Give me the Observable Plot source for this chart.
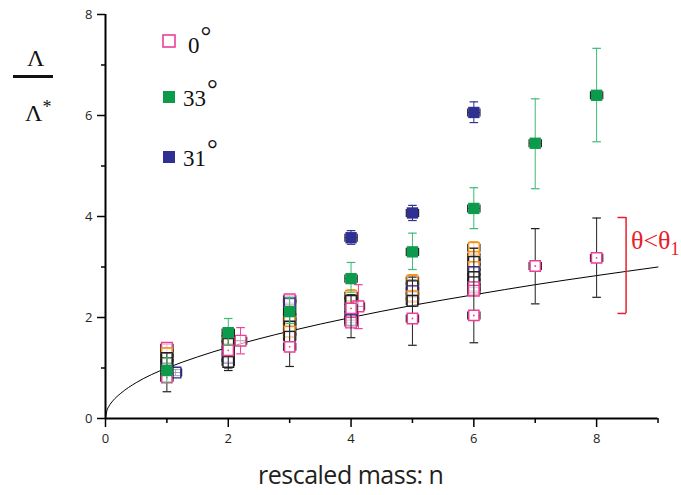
<!DOCTYPE html>
<html><head><meta charset="utf-8">
<script src="https://cdn.jsdelivr.net/npm/d3@7"></script>
<script src="https://cdn.jsdelivr.net/npm/@observablehq/plot@0.6"></script>
<style>
body{margin:0;background:#fff}
#chart{position:relative;width:681px;height:495px;overflow:hidden}
.ov{position:absolute;white-space:nowrap;line-height:1}
.serif{font-family:"Liberation Serif","DejaVu Serif",serif;color:#111}
</style>
</head><body><div id="chart"></div>
<script>
// ---- data ----
const n0 = [1, 2, 3, 4, 5, 6, 7, 8];
const lam0 = [0.81, 1.35, 1.42, 2.18, 1.98, 2.04, 3.02, 3.18];
const lam0Lo = [0.53, 0.95, 1.03, 1.6, 1.45, 1.5, 2.27, 2.4];
const lam0Hi = [1.3, 1.7, 2.2, 2.45, 2.8, 3.37, 3.76, 3.97];

const n33 = [1, 2, 3, 4, 5, 6, 7, 8];
const lam33 = [0.95, 1.7, 2.12, 2.77, 3.3, 4.16, 5.45, 6.4];
const lam33Lo = [0.72, 1.45, 1.88, 2.5, 2.95, 3.76, 4.55, 5.48];
const lam33Hi = [1.2, 1.98, 2.4, 3.09, 3.67, 4.57, 6.33, 7.33];

const n31 = [4, 5, 6];
const lam31 = [3.58, 4.07, 6.06];
const lam31Lo = [3.45, 3.92, 5.86];
const lam31Hi = [3.72, 4.22, 6.27];

// other runs (unlabelled open squares)
const nX =   [1, 1, 1, 1, 1.14, 2, 2, 2, 2, 2.2, 3, 3, 3, 3, 3, 3, 3, 4, 4, 4, 4, 4.12, 4, 5, 5, 5, 5, 5, 6, 6, 6, 6, 6, 6, 6, 6, 6];
const lamX = [1.40, 1.29, 1.2, 1.1, 0.91, 1.58, 1.48, 1.2, 1.12, 1.54, 2.36, 2.28, 2.0, 1.92, 1.82, 1.72, 1.62, 2.43, 2.33, 2.05, 1.95, 2.22, 1.9, 2.73, 2.62, 2.52, 2.42, 2.33, 3.38, 3.2, 3.1, 3.0, 2.9, 2.8, 2.7, 2.6, 2.53];
const lamXLo = [1.3, 1.18, 1.08, 0.98, 0.85, 1.45, 1.36, 1.1, 1.0, 1.28, 2.3, 2.2, 1.9, 1.8, 1.72, 1.62, 1.52, 2.3, 2.2, 1.95, 1.85, 1.78, 1.82, 2.6, 2.5, 2.4, 2.3, 2.22, 3.25, 3.08, 2.98, 2.88, 2.8, 2.7, 2.6, 2.5, 2.45];
const lamXHi = [1.47, 1.38, 1.3, 1.2, 0.97, 1.7, 1.6, 1.3, 1.22, 1.8, 2.43, 2.38, 2.1, 2.02, 1.92, 1.82, 1.72, 2.55, 2.45, 2.15, 2.05, 2.65, 2.0, 2.85, 2.75, 2.64, 2.55, 2.45, 3.5, 3.32, 3.22, 3.12, 3.0, 2.9, 2.8, 2.7, 2.62];
const runX = ["p", "o", "k", "k", "b", "o", "k", "b", "k", "p", "p", "b", "k", "o", "k", "o", "k", "o", "k", "k", "b", "p", "p", "o", "k", "b", "o", "k", "o", "o", "k", "o", "b", "k", "k", "p", "p"];

// fitted curve, points
const curveN =   [0, 0.02, 0.06, 0.12, 0.25, 0.5, 0.75, 1, 1.5, 2, 3, 4, 5, 6, 7, 8, 9];
const curveLam = [0, 0.14, 0.25, 0.35, 0.5, 0.71, 0.87, 1, 1.22, 1.41, 1.73, 2, 2.24, 2.45, 2.65, 2.83, 3];

// axis ticks
const majorTicksX = [0, 2, 4, 6, 8];
const minorTicksX = [1, 3, 5, 7, 9];
const majorTicksY = [0, 2, 4, 6, 8];
const minorTicksY = [1, 3, 5, 7];

// annotation bracket
const bracketN = [8.48];
const bracketLam = [2.08, 3.98];

// ---- styles ----
const PINK = "#ec3f96", GREEN = "#0c9b4c", GREENBAR = "#3dbb74", NAVY = "#2e3192", ORANGE = "#f7941d", BLACK = "#231f20", RED = "#e8202a";
const colorOf = {p: PINK, o: ORANGE, k: BLACK, b: NAVY};

const main0 = n0.map((x, i) => ({x, y: lam0[i], lo: lam0Lo[i], hi: lam0Hi[i]}));
const main33 = n33.map((x, i) => ({x, y: lam33[i], lo: lam33Lo[i], hi: lam33Hi[i]}));
const main31 = n31.map((x, i) => ({x, y: lam31[i], lo: lam31Lo[i], hi: lam31Hi[i]}));
const extra = nX.map((x, i) => ({x, y: lamX[i], lo: lamXLo[i], hi: lamXHi[i], c: colorOf[runX[i]]}));
const curve = curveN.map((x, i) => ({x, y: curveLam[i]}));

const capW = 0.07, hErr = 0.1, hCap = 0.08;
function errorBars(data, stroke) {
  return [
    Plot.ruleX(data, {x: "x", y1: "lo", y2: "hi", stroke, strokeWidth: 1}),
    Plot.link(data, {x1: d => d.x - capW, x2: d => d.x + capW, y1: "lo", y2: "lo", stroke, strokeWidth: 1.2}),
    Plot.link(data, {x1: d => d.x - capW, x2: d => d.x + capW, y1: "hi", y2: "hi", stroke, strokeWidth: 1.2})
  ];
}
function hBars(data) {
  return [
    Plot.link(data, {x1: d => d.x - hErr, x2: d => d.x + hErr, y1: "y", y2: "y", stroke: BLACK, strokeWidth: 1}),
    Plot.link(data, {x1: d => d.x - hErr, x2: d => d.x - hErr, y1: d => d.y - hCap, y2: d => d.y + hCap, stroke: BLACK, strokeWidth: 1.2}),
    Plot.link(data, {x1: d => d.x + hErr, x2: d => d.x + hErr, y1: d => d.y - hCap, y2: d => d.y + hCap, stroke: BLACK, strokeWidth: 1.2})
  ];
}
const sq = {symbol: "square", strokeLinejoin: "miter"};

const plot = Plot.plot({
  width: 681, height: 495,
  marginLeft: 105, marginRight: 23.5, marginTop: 14, marginBottom: 77,
  x: {domain: [0, 9], label: null},
  y: {domain: [0, 8], label: null},
  style: {background: "white", overflow: "visible"},
  marks: [
    Plot.line(curve, {x: "x", y: "y", curve: "monotone-x", stroke: "black", strokeWidth: 1}),
    // other runs
    ...errorBars(extra, d => d.c),
    ...hBars(extra),
    Plot.dot(extra, {x: "x", y: "y", ...sq, r: 6, fill: "white", fillOpacity: 0.6, stroke: "c", strokeWidth: 1.4}),
    // 0 deg
    ...errorBars(main0, BLACK),
    ...hBars(main0),
    Plot.dot(main0, {x: "x", y: "y", ...sq, r: 5.8, fill: "white", stroke: PINK, strokeWidth: 1.5}),
    Plot.dot(main0, {x: "x", y: "y", r: 0.9, fill: PINK}),
    // 33 deg
    ...errorBars(main33, GREENBAR),
    ...hBars(main33),
    Plot.dot(main33, {x: "x", y: "y", ...sq, r: 6.4, fill: GREEN, stroke: "none"}),
    // 31 deg
    ...errorBars(main31, NAVY),
    ...hBars(main31),
    Plot.dot(main31, {x: "x", y: "y", ...sq, r: 6.4, fill: NAVY, stroke: "none"}),
    // bracket annotation
    Plot.ruleX(bracketN, {x: d => d, y1: bracketLam[0], y2: bracketLam[1], stroke: RED, strokeWidth: 1.5}),
    Plot.link(bracketLam, {x1: bracketN[0] - 0.14, x2: bracketN[0], y1: d => d, y2: d => d, stroke: RED, strokeWidth: 1.5}),
    // axes
    Plot.ruleY([0], {x1: 0, x2: 9, stroke: "black", strokeWidth: 2}),
    Plot.ruleX([0], {y1: 0, y2: 8, stroke: "black", strokeWidth: 2}),
    Plot.axisX(majorTicksX, {tickSize: 9, tickPadding: 6, tickFormat: d => String(d), fontSize: 13, fontFamily: "Open Sans", stroke: "black", strokeWidth: 1.5, fill: "#231f20", label: null}),
    Plot.axisX(minorTicksX, {tickSize: 5, tickFormat: () => "", stroke: "black", strokeWidth: 1.5, label: null}),
    Plot.axisY(majorTicksY, {tickSize: 8, tickPadding: 5, tickFormat: d => String(d), fontSize: 13, fontFamily: "Open Sans", stroke: "black", strokeWidth: 1.5, fill: "#231f20", label: null}),
    Plot.axisY(minorTicksY, {tickSize: 4, tickFormat: () => "", stroke: "black", strokeWidth: 1.5, label: null})
  ]
});
const chart = document.getElementById("chart");
chart.appendChild(plot);

function ov(html, css, cls = "ov") {
  const d = document.createElement("div");
  d.className = cls;
  d.innerHTML = html;
  Object.assign(d.style, css);
  chart.appendChild(d);
  return d;
}
// y label: Λ / Λ*
ov("Λ", {left: "27px", top: "46px", fontSize: "24px"}, "ov serif");
ov("", {left: "13px", top: "75px", width: "40px", height: "3px", background: "#111"});
ov("Λ<span style='font-size:18px;position:relative;top:-8px'>*</span>", {left: "25px", top: "101px", fontSize: "24px"}, "ov serif");
// legend swatches
const swatch = (fill, stroke) => `<svg width="14" height="14"><rect x="1" y="1" width="12" height="12" fill="${fill}" stroke="${stroke}" stroke-width="${stroke === "none" ? 0 : 1.6}"/></svg>`;
ov(swatch("#fff", PINK), {left: "162px", top: "34px"});
ov(swatch(GREEN, "none"), {left: "162px", top: "90px"});
ov(swatch(NAVY, "none"), {left: "162px", top: "150px"});
const degree = "<span style='font-size:27px;position:relative;top:-8px;margin-left:1px'>°</span>";
ov("0" + degree, {left: "188px", top: "31px", fontSize: "23px"}, "ov serif");
ov("33" + degree, {left: "183px", top: "84px", fontSize: "23px"}, "ov serif");
ov("31" + degree, {left: "183px", top: "144px", fontSize: "23px"}, "ov serif");
// annotation text
ov("θ&lt;θ<span style='font-size:18px;position:relative;top:6px'>1</span>", {left: "631px", top: "228px", fontSize: "26px", color: RED}, "ov serif");
// x label
ov("rescaled mass: n", {left: "258px", top: "462px", fontSize: "25px", fontFamily: "'Open Sans'", color: "#231f20", letterSpacing: "-0.5px"});
</script>
</body></html>
